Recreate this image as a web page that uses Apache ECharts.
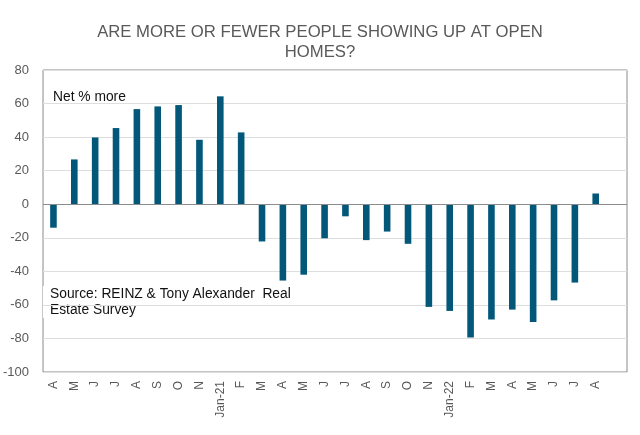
<!DOCTYPE html>
<html>
<head>
<meta charset="utf-8">
<script src="https://cdn.jsdelivr.net/npm/echarts@6/dist/echarts.min.js"></script>
<style>
html,body{margin:0;padding:0;background:#fff;}
#chart{width:640px;height:435px;}
</style>
</head>
<body>
<div id="chart"></div>
<script>
const categories = ['A','M','J','J','A','S','O','N','Jan-21','F','M','A','M','J','J','A','S','O','N','Jan-22','F','M','A','M','J','J','A',''];
const netMore = [-14, 26.7, 39.8, 45.4, 56.7, 58.3, 59.1, 38.4, 64.3, 42.8, -22.2, -45.5, -42, -20.3, -7.2, -21.4, -16.3, -23.6, -61.2, -63.6, -79.4, -68.7, -62.8, -70.2, -57.3, -46.7, 6.4, null];
const yTicks = {min: -100, max: 80, step: 20};
const titleText = 'ARE MORE OR FEWER PEOPLE SHOWING UP AT OPEN\nHOMES?';
const seriesLabel = 'Net % more';
const sourceText = 'Source: REINZ & Tony Alexander  Real\nEstate Survey';

const chart = echarts.init(document.getElementById('chart'), null, {renderer: 'canvas'});
const font = '"Liberation Sans", Arial, sans-serif';
chart.setOption({
  animation: false,
  backgroundColor: '#ffffff',
  title: {
    text: titleText,
    left: 315, top: 17, textAlign: 'center',
    textStyle: {fontFamily: font, fontSize: 16.7, fontWeight: 'normal', color: '#595959', lineHeight: 20}
  },
  grid: {left: 41.7, right: 13, top: 70, bottom: 63, show: true, borderColor: '#8a8a8a', borderWidth: 1, containLabel: false},
  xAxis: {
    type: 'category', data: categories,
    axisLine: {show: false, onZero: false},
    axisTick: {show: false},
    axisLabel: {interval: 0, rotate: 90, margin: 9, fontFamily: font, fontSize: 12, color: '#595959'},
    splitLine: {show: false}
  },
  yAxis: {
    type: 'value', min: yTicks.min, max: yTicks.max, interval: yTicks.step,
    axisLine: {show: false}, axisTick: {show: false},
    axisLabel: {margin: 14, fontFamily: font, fontSize: 13, color: '#595959'},
    splitLine: {show: true, lineStyle: {color: '#dedede', width: 1}}
  },
  series: [{
    type: 'bar', data: netMore, barWidth: 6.6,
    itemStyle: {color: '#03587a'},
    markLine: {
      silent: true, symbol: 'none', label: {show: false},
      lineStyle: {color: '#8c8c8c', type: 'solid', width: 1},
      data: [{yAxis: 0}]
    }
  }],
  graphic: [
    {type: 'text', left: 53, top: 90, style: {text: seriesLabel, font: '13.8px ' + font, fill: '#111'}},
    {type: 'rect', left: 43, top: 286, shape: {width: 258, height: 32}, style: {fill: '#ffffff'}},
    {type: 'text', left: 50, top: 286, style: {text: sourceText, font: '13.8px ' + font, fill: '#111', lineHeight: 16}}
  ]
});
</script>
</body>
</html>
